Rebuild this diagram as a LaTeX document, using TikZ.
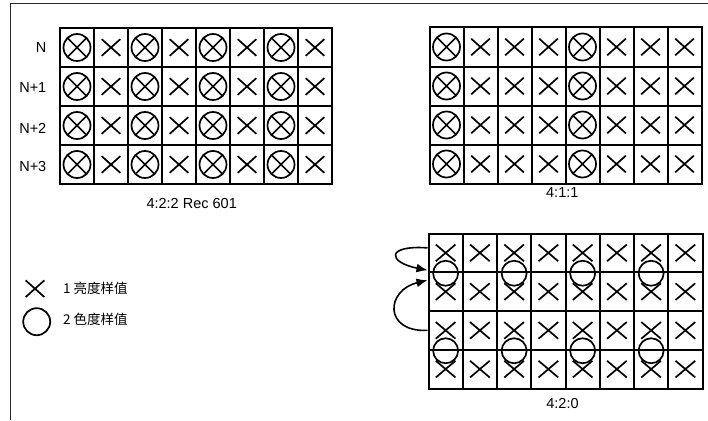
\documentclass[tikz,border=0pt]{standalone}
\usepackage{fontspec}
\setmainfont{Liberation Sans}
\newfontfamily\cjk{Noto Sans CJK SC}
\usetikzlibrary{shapes.misc,arrows.meta}

\begin{document}
\begin{tikzpicture}[x=1pt, y=-1pt,
    cell/.style = {draw, rectangle, line width=2pt, inner sep=0pt, minimum height=39pt},
    luma/.style = {draw, cross out, line width=1.7pt, inner sep=0pt, minimum width=17pt, minimum height=15pt},
    chroma/.style = {draw, circle, line width=1.7pt, inner sep=0pt, minimum size=27pt},
    both/.style = {chroma, path picture={
        \draw (path picture bounding box.south west) -- (path picture bounding box.north east)
              (path picture bounding box.north west) -- (path picture bounding box.south east);}},
    lbl/.style = {inner sep=0pt, font=\fontsize{14.5}{16}\selectfont}]
        \useasboundingbox (0,0) rectangle (708,420);
        \draw[line width=1.6pt, black!85] (10.5,420) -- (10.5,3.7) -- (708,3.7);

        % Cells
        \foreach \r in {1,...,4} \foreach \c in {1,...,8} {
            \node[cell, minimum width=34pt] (a-\r-\c) at ({60+34*(\c-0.5)}, {28+39*(\r-0.5)}) {};
            \node[cell, minimum width=34pt] (b-\r-\c) at ({429.5+34*(\c-0.5)}, {27.5+39*(\r-0.5)}) {};
            \node[cell, minimum width=34.25pt, minimum height=38.75pt] (c-\r-\c) at ({428.5+34.25*(\c-0.5)}, {233.5+38.75*(\r-0.5)}) {};
        }

        % Samples
        \foreach \r in {1,...,4} {
            \foreach \c in {1,3,5,7} \node[both] (sa-\r-\c) at (a-\r-\c) {};
            \foreach \c in {2,4,6,8} \node[luma] (xa-\r-\c) at (a-\r-\c) {};
            \foreach \c in {1,5} \node[both] (sb-\r-\c) at (b-\r-\c) {};
            \foreach \c in {2,3,4,6,7,8} \node[luma] (xb-\r-\c) at (b-\r-\c) {};
            \foreach \c in {1,...,8} \node[luma, minimum width=18pt] (xc-\r-\c) at (c-\r-\c) {};
        }
        \foreach \c in {1,3,5,7} {
            \node[chroma, minimum size=25pt] (oc-1-\c) at (c-1-\c.south) {};
            \node[chroma, minimum size=25pt] (oc-3-\c) at (c-3-\c.south) {};
        }

        % Labels
        \node[lbl, anchor=east] (n0) at (46.5,48) {N};
        \node[lbl, anchor=east] (n1) at (46.5,88) {N+1};
        \node[lbl, anchor=east] (n2) at (46.5,128) {N+2};
        \node[lbl, anchor=east] (n3) at (46.5,167) {N+3};
        \node[lbl] (t422) at (191.7,204) {4:2:2 Rec 601};
        \node[lbl] (t411) at (562.3,193) {4:1:1};
        \node[lbl] (t420) at (562.5,404) {4:2:0};

        % Legend
        \node[luma] (kx) at (35,288.7) {};
        \node[chroma, minimum size=27pt] (ko) at (36.7,321.7) {};
        \node[lbl, anchor=west, font=\cjk\fontsize{13.5}{15}\selectfont] (k1) at (63,288) {1 亮度样值};
        \node[lbl, anchor=west, font=\cjk\fontsize{13.5}{15}\selectfont] (k2) at (63,319) {2 色度样值};

        % Connections
        \draw[line width=1.6pt, -{Latex[length=11pt,width=9pt]}] ([yshift=5pt]c-1-1.west) .. controls +(-42,-3) and +(-40,-8) .. ([yshift=3pt]c-1-1.south west);
        \draw[line width=1.6pt, -{Latex[length=11pt,width=9pt]}] (c-3-1.west) .. controls +(-44,2) and +(-42,10) .. ([yshift=-9pt]c-2-1.north west);
\end{tikzpicture}
\end{document}
